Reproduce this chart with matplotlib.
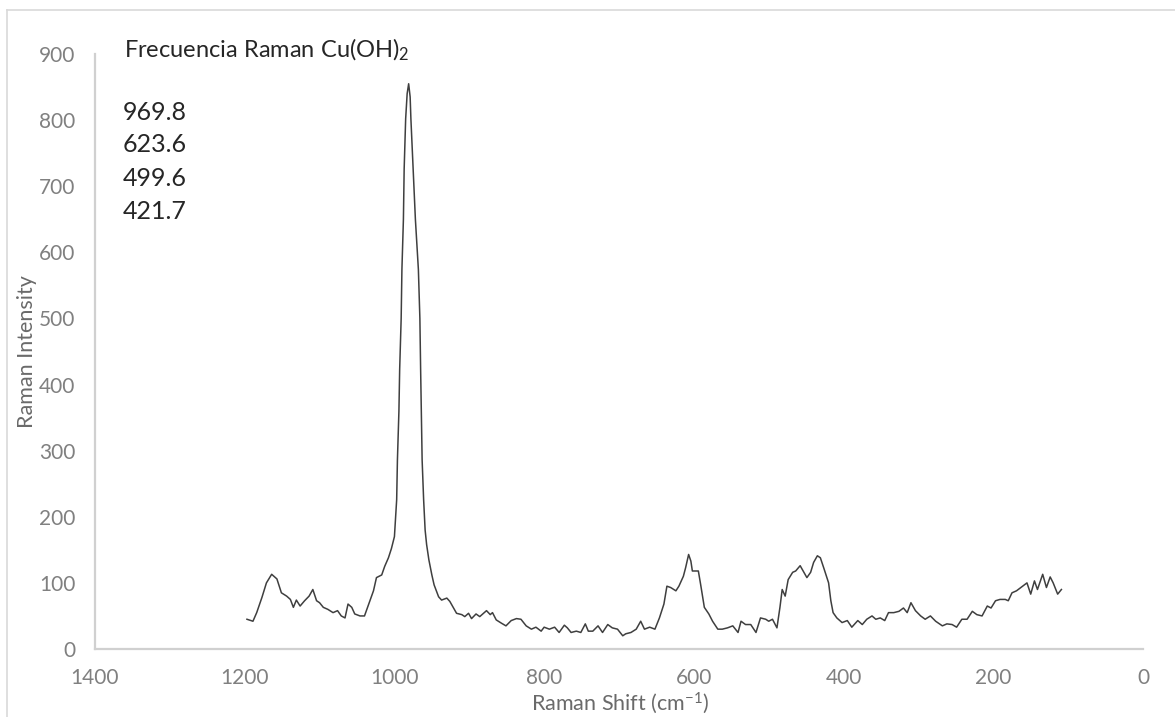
import matplotlib
matplotlib.use("Agg")
import matplotlib.pyplot as plt
from matplotlib.lines import Line2D

plt.rcParams['font.family'] = ['Lato', 'DejaVu Sans']
plt.rcParams['mathtext.fontset'] = 'custom'
plt.rcParams['mathtext.rm'] = 'Lato'
plt.rcParams['mathtext.it'] = 'Lato:italic'
plt.rcParams['mathtext.bf'] = 'Lato:bold'

# Raman spectrum of Cu(OH)2: shift (cm-1) and intensity
raman_shift = [
    1197, 1189, 1184, 1177, 1171, 1164, 1157, 1151, 1144, 1139, 1135, 1131,
    1126, 1120, 1114, 1109, 1104, 1100, 1095, 1089, 1082, 1076, 1071, 1066,
    1062, 1057, 1053, 1046, 1040, 1033, 1028, 1024, 1017, 1013, 1008, 1004,
    1000, 997, 996, 994, 993, 991, 990, 988, 987, 985, 983, 981,
    979, 978, 975, 972, 968, 966, 965, 963, 961, 959, 957, 954,
    950, 947, 941, 937, 930, 926, 922, 917, 910, 906, 901, 897,
    891, 886, 881, 877, 872, 869, 864, 857, 851, 844, 837, 831,
    824, 817, 811, 804, 800, 793, 786, 780, 773, 769, 764, 757,
    751, 745, 741, 735, 728, 722, 715, 709, 702, 695, 691, 684,
    677, 671, 666, 659, 652, 646, 640, 636, 631, 624, 620, 614,
    611, 607, 604, 602, 597, 594, 591, 586, 580, 575, 568, 562,
    555, 548, 541, 537, 531, 524, 517, 511, 504, 500, 495, 489,
    485, 482, 478, 474, 468, 464, 458, 454, 449, 444, 440, 435,
    431, 426, 420, 417, 414, 409, 402, 395, 389, 381, 375, 369,
    362, 357, 351, 345, 340, 333, 326, 320, 315, 310, 304, 297,
    291, 284, 277, 268, 262, 255, 249, 242, 235, 228, 222, 215,
    208, 203, 197, 191, 184, 180, 175, 169, 162, 155, 150, 145,
    141, 134, 129, 124, 120, 114, 109,
]
intensity = [
    45, 42, 55, 78, 100, 113, 106, 85, 80, 75, 63, 74,
    65, 73, 80, 90, 73, 70, 63, 60, 55, 58, 50, 47,
    68, 63, 53, 50, 50, 72, 88, 108, 112, 125, 138, 152,
    170, 226, 286, 360, 423, 500, 574, 650, 726, 802, 840, 855,
    835, 802, 726, 650, 574, 500, 423, 286, 226, 180, 158, 135,
    112, 97, 79, 74, 77, 72, 64, 54, 52, 49, 54, 46,
    53, 49, 54, 58, 52, 55, 44, 39, 35, 43, 46, 45,
    35, 30, 33, 27, 33, 30, 33, 25, 36, 32, 25, 27,
    25, 38, 27, 27, 35, 25, 37, 32, 30, 20, 23, 25,
    30, 42, 30, 33, 30, 47, 68, 95, 93, 88, 95, 110,
    123, 143, 133, 118, 118, 118, 98, 63, 53, 42, 30, 30,
    32, 35, 25, 42, 37, 37, 25, 47, 45, 42, 45, 32,
    63, 90, 80, 105, 116, 118, 126, 118, 108, 116, 131, 141,
    138, 121, 100, 73, 55, 47, 40, 43, 33, 43, 37, 45,
    50, 45, 47, 43, 55, 55, 57, 62, 55, 70, 58, 50,
    45, 50, 42, 35, 38, 37, 33, 45, 45, 57, 52, 50,
    65, 62, 73, 75, 75, 73, 85, 88, 94, 100, 83, 103,
    90, 113, 93, 109, 100, 83, 90,
]

peak_labels = ["969.8", "623.6", "499.6", "421.7"]
x_ticks = [1400, 1200, 1000, 800, 600, 400, 200, 0]
y_ticks = [0, 100, 200, 300, 400, 500, 600, 700, 800, 900]

W, H = 1175, 717
fig = plt.figure(figsize=(W / 100, H / 100), dpi=100)
ax = fig.add_axes([95 / W, 1 - 649 / H, (1143 - 95) / W, (649 - 54) / H])

ax.plot(raman_shift, intensity, color='#3f3f3f', lw=1.1)

ax.set_xlim(1400, 0)
ax.set_ylim(0, 900)
ax.set_xticks(x_ticks)
ax.set_yticks(y_ticks)
ax.tick_params(axis='both', length=0, labelsize=15, colors='#808080')
ax.tick_params(axis='x', pad=14)
ax.tick_params(axis='y', pad=14)

for side in ('top', 'right'):
    ax.spines[side].set_visible(False)
for side in ('left', 'bottom'):
    ax.spines[side].set_color('#d0d0d0')
    ax.spines[side].set_linewidth(1.6)

fig.text(27 / W, 1 - 352 / H, 'Raman Intensity', rotation=90, fontsize=15.5,
         color='#6a6a6a', ha='center', va='center')
fig.text(620 / W, 1 - 703 / H, r'Raman Shift (cm$^{\mathrm{-1}}$)', fontsize=15.5,
         color='#6a6a6a', ha='center', va='center')

fig.text(124 / W, 1 - 50 / H, r'Frecuencia Raman Cu(OH)$_{\mathrm{2}}$', fontsize=17,
         color='#262626', ha='left', va='center')
for i, lab in enumerate(peak_labels):
    fig.text(123 / W, 1 - (112 + 33 * i) / H, lab, fontsize=18,
             color='#262626', ha='left', va='center')

# light chart border
fig.add_artist(Line2D([7 / W, 1.0], [1 - 10 / H, 1 - 10 / H], transform=fig.transFigure,
                      color='#d9d9d9', lw=1.2))
fig.add_artist(Line2D([7 / W, 7 / W], [0, 1 - 10 / H], transform=fig.transFigure,
                      color='#d9d9d9', lw=1.2))

fig.savefig('out.png', dpi=100)
